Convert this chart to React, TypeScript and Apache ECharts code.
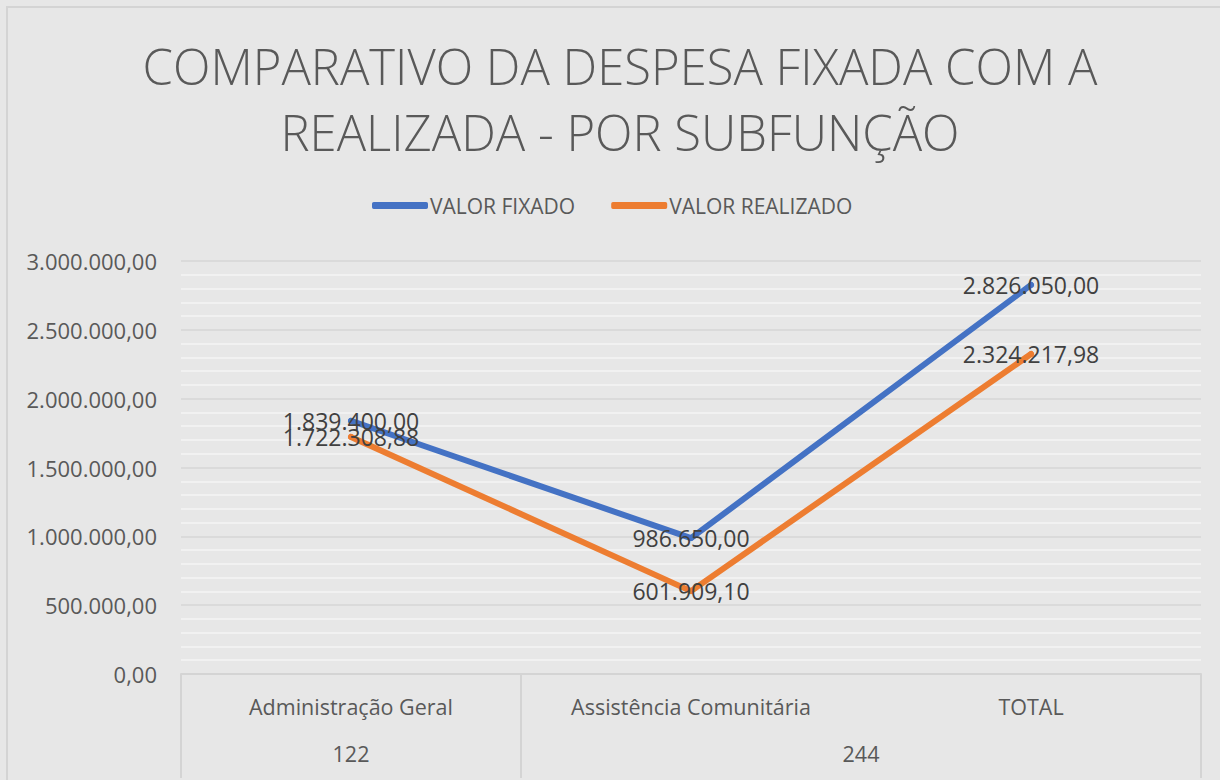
import React, { useEffect, useRef } from "react";
import * as echarts from "echarts";

const titleText = "COMPARATIVO DA DESPESA FIXADA COM A\nREALIZADA - POR SUBFUNÇÃO";
const categories = ["Administração Geral", "Assistência Comunitária", "TOTAL"];
const groupLabels = ["122", "244"];
const groupSpans: [number, number][] = [
  [0, 0],
  [1, 2],
];
const seriesNames = ["VALOR FIXADO", "VALOR REALIZADO"];
const valorFixado = [1839400.0, 986650.0, 2826050.0];
const valorRealizado = [1722308.88, 601909.1, 2324217.98];
const yMin = 0;
const yMax = 3000000;
const yInterval = 500000;

const fmt = (v: number) => {
  const [i, d] = v.toFixed(2).split(".");
  return i.replace(/\B(?=(\d{3})+(?!\d))/g, ".") + "," + d;
};

const FONT = "'Open Sans', 'Noto Sans', sans-serif";

export default function App() {
  const ref = useRef<HTMLDivElement>(null);
  useEffect(() => {
    if (!ref.current) return;
    const chart = echarts.init(ref.current, undefined, { renderer: "svg" });
    const groupCenters = groupSpans.map(([a, b]) => (a + b) / 2);
    const boundaries = [groupSpans[0][0] - 0.5, ...groupSpans.map(([, b]) => b + 0.5)];
    chart.setOption({
      animation: false,
      backgroundColor: "#e7e7e7",
      textStyle: { fontFamily: FONT },
      title: {
        text: titleText,
        left: 620,
        textAlign: "center",
        top: 33,
        padding: 0,
        textStyle: {
          fontFamily: FONT,
          fontSize: 49,
          fontWeight: 300,
          color: "#595959",
          lineHeight: 66,
        },
      },
      legend: {
        data: seriesNames,
        left: 372,
        top: 195,
        padding: 0,
        itemWidth: 56,
        itemHeight: 7,
        itemGap: 36,
        icon: "roundRect",
        textStyle: { fontFamily: FONT, fontSize: 21, color: "#595959", padding: [0, 0, 0, -3] },
      },
      graphic: [
        {
          type: "rect",
          shape: { x: 7, y: 7, width: 1400, height: 1000 },
          style: { fill: "none", stroke: "#d4d4d4", lineWidth: 2 },
          silent: true,
          z: -10,
        },
      ],
      grid: { left: 181, right: 19, top: 261, bottom: 106, containLabel: false },
      xAxis: [
        {
          type: "category",
          data: categories,
          boundaryGap: true,
          axisLine: { show: true, lineStyle: { color: "#d4d4d4", width: 2 } },
          axisTick: { show: false },
          axisLabel: { color: "#595959", fontSize: 21.5, margin: 21, fontFamily: FONT },
          splitLine: { show: false },
        },
        {
          type: "value",
          min: boundaries[0],
          max: boundaries[boundaries.length - 1],
          position: "bottom",
          axisLine: { show: false },
          axisTick: {
            show: true,
            customValues: boundaries,
            length: 104,
            lineStyle: { color: "#d4d4d4", width: 2 },
          },
          axisLabel: {
            show: true,
            customValues: groupCenters,
            formatter: (v: number) => {
              const idx = groupCenters.findIndex((c) => Math.abs(c - v) < 1e-6);
              return idx >= 0 ? groupLabels[idx] : "";
            },
            color: "#595959",
            fontSize: 21.5,
            margin: 68,
            fontFamily: FONT,
          },
          splitLine: { show: false },
        },
      ],
      yAxis: {
        type: "value",
        min: yMin,
        max: yMax,
        interval: yInterval,
        axisLine: { show: false },
        axisTick: { show: false },
        axisLabel: {
          color: "#595959",
          fontSize: 22,
          margin: 24,
          fontFamily: FONT,
          formatter: (v: number) => fmt(v),
        },
        splitLine: { show: true, lineStyle: { color: "#d6d6d6", width: 1.5 } },
        minorTick: { show: false, splitNumber: 5 },
        minorSplitLine: { show: true, lineStyle: { color: "#f4f4f4", width: 1.5 } },
      },
      series: [
        {
          name: seriesNames[0],
          type: "line",
          data: valorFixado,
          xAxisIndex: 0,
          symbol: "circle",
          symbolSize: 6,
          color: "#4472C4",
          lineStyle: { width: 6, color: "#4472C4", cap: "round" },
          label: {
            show: true,
            position: "inside",
            formatter: (p: any) => fmt(p.value),
            fontSize: 23,
            color: "#404040",
            fontFamily: FONT,
          },
        },
        {
          name: seriesNames[1],
          type: "line",
          data: valorRealizado,
          xAxisIndex: 0,
          symbol: "circle",
          symbolSize: 6,
          color: "#ED7D31",
          lineStyle: { width: 6, color: "#ED7D31", cap: "round" },
          label: {
            show: true,
            position: "inside",
            formatter: (p: any) => fmt(p.value),
            fontSize: 23,
            color: "#404040",
            fontFamily: FONT,
          },
        },
      ],
    });
    return () => chart.dispose();
  }, []);
  return (
    <div
      ref={ref}
      style={{ position: "fixed", left: 0, top: 0, width: 1220, height: 780 }}
    />
  );
}
